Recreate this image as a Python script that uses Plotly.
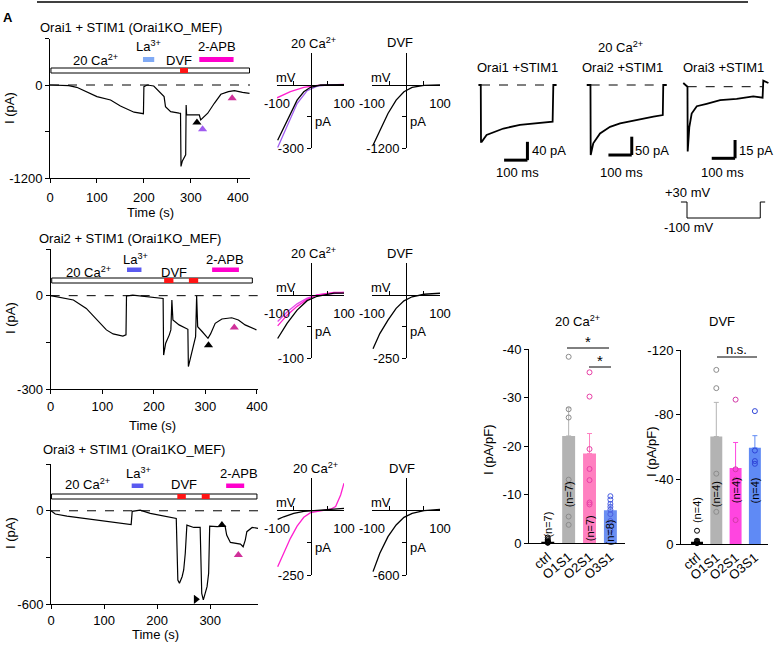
import plotly.graph_objects as go

W, H = 780, 651
FONT = "Liberation Sans, Arial, Helvetica, sans-serif"

# ---------------- data ----------------
# time courses: time (s) and current (pA)
orai1_t = [0, 20, 40, 57, 80, 100, 129, 150, 179, 196, 199, 200, 207, 221, 236, 243, 246, 257, 275, 278,
           279, 282, 289, 290, 291, 300, 318, 321, 336, 350, 364, 380, 393, 410, 425]
orai1_i = [0, -2, -8, -30, -90, -150, -193, -270, -351, -373, -370, -21, 0, -13, -107, -150, -279, -343, -364, -366,
           -1050, -980, -900, -257, -386, -386, -386, -450, -364, -236, -120, -85, -73, -95, -107]
orai1_mark_t = [313, 325, 388]
orai1_mark_i = [-484, -570, -171]

orai2_t = [0, 18, 44, 69, 95, 108, 121, 140, 146, 147, 159, 185, 210, 218, 219, 223, 230, 233, 235, 237,
           249, 262, 266, 267, 274, 281, 283, 285, 294, 305, 310, 319, 332, 351, 364, 377, 399]
orai2_i = [0, -5, -14, -41, -89, -110, -123, -130, -126, -1, 2, -3, -6, -9, -191, -153, -126, -110, -14, -78,
           -94, -105, -108, -228, -175, -132, 0, -100, -116, -137, -123, -89, -75, -71, -78, -94, -110]
orai2_mark_t = [306, 356]
orai2_mark_i = [-159, -102]

orai3_t = [0, 8, 30, 61, 92, 124, 151, 153, 168, 187, 206, 225, 236, 239, 242, 247, 250, 253, 256, 269,
           281, 284, 287, 294, 297, 299, 313, 328, 331, 338, 357, 362, 366, 369, 379, 391]
orai3_i = [0, -21, -34, -49, -64, -77, -88, -4, 4, -17, -28, -43, -49, -444, -465, -423, -380, -273, -92, -107,
           -107, -530, -572, -487, -401, -98, -102, -98, -156, -203, -214, -231, -188, -134, -107, -113]
orai3_mark_t = [273, 322, 353]
orai3_mark_i = [-568, -92, -284]

# solution exchange (s)
orai1_bar, orai1_dvf, orai1_la, orai1_apb = [2, 425], [[277, 294]], [198, 222], [318, 391]
orai2_bar, orai2_dvf, orai2_la, orai2_apb = [2, 391], [[220, 238], [268, 286]], [148, 176], [313, 365]
orai3_bar, orai3_dvf, orai3_la, orai3_apb = [1, 388], [[238, 254], [284, 299]], [152, 174], [330, 364]

# I-V curves: mV, pA
iv1_ca_v_k = [-98, -70, -40, -20, 0, 30, 60, 100]
iv1_ca_k = [-263, -168, -72, -32, -11, 0, 1, 2]
iv1_ca_v_p = [-98, -70, -40, -10, 20, 50, 100]
iv1_ca_p = [-298, -199, -88, -27, -5, 0, 2]
iv1_ca_v_m = [-100, -60, -20, 20, 60, 100]
iv1_ca_m = [-61, -32, -11, -2, 1, 3]
iv_dvf_v = [-97, -77, -53, -29, -6, 18, 53, 100]
iv1_dvf = [-1149, -862, -543, -287, -128, -45, -6, 0]

iv2_ca_v = [-98, -70, -40, -10, 20, 70, 100]
iv2_ca_k = [-69, -45, -24, -9, -2, 3, 3]
iv2_ca_m = [-49, -32, -18, -7, 0, 4, 4]
iv2_ca_p = [-42, -27, -14, -5, 0, 3, 4]
iv2_dvf = [-213, -153, -100, -53, -23, -7, 3, 7]

iv3_ca_v_k = [-98, -80, -50, -20, 0, 50, 70, 100]
iv3_ca_k = [-36, -26, -13, -5, -3, 0, 3, 6]
iv3_ca_v_m = [-98, -80, -60, -40, -20, 0, 30, 60, 75, 90, 100]
iv3_ca_m = [-218, -167, -109, -62, -28, -10, -3, 3, 13, 58, 103]
iv3_dvf = [-569, -400, -246, -138, -68, -31, -6, 6]

# current responses to the -100 mV step: ms, pA
cur1_t = [-11, -1, 0, 3, 24, 53, 96, 167, 239, 307, 310, 324]
cur1_i = [0, 0, -124, -124, -109, -104, -95, -87, -84, -80, 0, 0]
cur2_t = [-17, -1, 0, 11, 40, 83, 126, 197, 269, 309, 311, 326]
cur2_i = [0, 0, -191, -159, -132, -114, -105, -95, -86, -82, 0, 0]
cur3_t = [-19, -1, 0, 7, 17, 39, 81, 139, 210, 281, 321, 324, 346]
cur3_i = [3, 0, -53, -33, -22, -16, -14, -11, -10, -8, -9, 5, 3]
scale_ms = 100
scale_pa = [40, 50, 15]

protocol_t = [-26, 0, 0, 314, 314, 335]
protocol_v = [30, 30, -100, -100, 30, 30]

# current densities (pA/pF)
grupos = ["ctrl", "O1S1", "O2S1", "O3S1"]
ca_media = [-0.3, -22.1, -18.5, -6.8]
ca_sem = [0.3, 5.8, 4.1, 1.8]
ca_n = [7, 7, 7, 8]
ca_pontos = [[-0.1, -0.2, -0.3, -0.5, -0.8, -0.2, -1.2],
             [-38.4, -27.6, -25.9, -13.1, -11.9, -5.5, -3.8],
             [-35.2, -30.2, -19.4, -15.3, -13.0, -8.4, -8.0],
             [-9.7, -9.0, -8.1, -7.5, -6.9, -6.0, -4.6, -2.6]]
dvf_media = [-1.4, -66.5, -47.0, -59.5]
dvf_sem = [1.5, 21.1, 15.8, 7.5]
dvf_n = [4, 4, 4, 4]
dvf_pontos = [[-0.5, -1.0, -2.0, -8.2],
              [-107.7, -96.4, -43.5, -19.9],
              [-89.3, -46.2, -39.8, -14.8],
              [-82.2, -57.8, -51.3, -49.6]]

# ---------------- helpers ----------------
fig = go.Figure()
layout = {}
annotations = []
shapes = []


def fx(px):
    return px / W


def fy(py):
    return 1 - py / H


def dom_x(a, b):
    return [fx(a), fx(b)]


def dom_y(top, bottom):
    return [fy(bottom), fy(top)]


def span(p0, p1, origin, per_px, flip=False):
    # data range covered by a pixel interval, knowing where 0 sits
    if flip:
        return [(origin - p1) * per_px, (origin - p0) * per_px]
    return [(p0 - origin) * per_px, (p1 - origin) * per_px]


def nomes(n):
    s = "" if n == 1 else str(n)
    return "xaxis" + s, "yaxis" + s, "x" + s, "y" + s


def eixo(**kw):
    d = dict(showline=True, linecolor="black", linewidth=1, ticks="outside", ticklen=4,
             tickwidth=1, tickcolor="black", showgrid=False, zeroline=False, automargin=False,
             tickfont=dict(family=FONT, size=13, color="black"))
    d.update(kw)
    return d


def invisivel(**kw):
    d = dict(visible=False, automargin=False, showgrid=False, zeroline=False)
    d.update(kw)
    return d


def texto(x, y, t, size=13, angle=0, xanchor="center", xref="paper", yref="paper"):
    if xref == "paper":
        x = fx(x)
    if yref == "paper":
        y = fy(y)
    annotations.append(dict(x=x, y=y, xref=xref, yref=yref, text=t, showarrow=False,
                            textangle=angle, xanchor=xanchor, yanchor="middle",
                            font=dict(family=FONT, size=size, color="black")))


def linha_px(x0, x1, y0, y1, w=1):
    shapes.append(dict(type="line", xref="paper", yref="paper", x0=fx(x0), x1=fx(x1),
                       y0=fy(y0), y1=fy(y1), line=dict(color="black", width=w)))


def plot_tempo(c):
    xa, ya, xr, yr = nomes(c["n"])
    ymin = c["ymin"]
    layout[xa] = eixo(domain=dom_x(*c["xbox"]), range=[0, c["xmax"]], anchor=yr, tickvals=c["xticks"],
                      ticklabelstandoff=c["standoff"])
    layout[ya] = eixo(domain=dom_y(*c["ybox"]), range=[ymin, -ymin / 2], anchor=xr,
                      tickvals=[-ymin / 2, 0, ymin / 2, ymin], ticktext=["", "0", "", str(ymin)])
    fig.add_trace(go.Scatter(x=[0, c["xmax"]], y=[0, 0], mode="lines",
                             line=dict(color="black", width=1, dash="dash"), xaxis=xr, yaxis=yr))
    fig.add_trace(go.Scatter(x=c["t"], y=c["i"], mode="lines", line=dict(color="black", width=1.2),
                             xaxis=xr, yaxis=yr))
    fig.add_trace(go.Scatter(x=c["mt"], y=c["mi"], mode="markers",
                             marker=dict(symbol=c["msym"], color=c["mcol"], size=8),
                             xaxis=xr, yaxis=yr))
    # solution bars
    b0, b1 = c["bar_y"]
    d0, d1 = c["drug_y"]
    shapes.append(dict(type="rect", xref=xr, yref="paper", x0=c["bar"][0], x1=c["bar"][1],
                       y0=fy(b1), y1=fy(b0), line=dict(color="black", width=1), fillcolor="white"))
    for a, b in c["dvf"]:
        shapes.append(dict(type="rect", xref=xr, yref="paper", x0=a, x1=b, y0=fy(b1), y1=fy(b0),
                           line=dict(width=0), fillcolor="#ff1414"))
    shapes.append(dict(type="rect", xref=xr, yref="paper", x0=c["la"][0], x1=c["la"][1],
                       y0=fy(d1), y1=fy(d0), line=dict(width=0), fillcolor=c["la_cor"]))
    shapes.append(dict(type="rect", xref=xr, yref="paper", x0=c["apb"][0], x1=c["apb"][1],
                       y0=fy(d1), y1=fy(d0), line=dict(width=0), fillcolor="#ff00cc"))
    for t, x, y in c["textos"]:
        texto(x, y, t)
    texto(*c["titulo_xy"], c["titulo"])
    texto(c["ylab_xy"][0], c["ylab_xy"][1], "I (pA)", angle=-90)
    texto(*c["tempo_xy"], "Time (s)")


def plot_iv(n, xbox, top, zero, bottom, ymin, curvas, titulo, titulo_x):
    xa, ya, xr, yr = nomes(n)
    ymax = -ymin * (zero - top) / (bottom - zero)
    x0 = (xbox[0] + xbox[1]) / 2
    layout[xa] = eixo(domain=dom_x(*xbox), range=[-100, 100], anchor="free", position=fy(zero),
                      ticks="inside", tickvals=[-100, -50, 50, 100], ticktext=["-100", "", "", "100"],
                      ticklabelstandoff=6)
    layout[ya] = eixo(domain=dom_y(top, bottom), range=[ymin, ymax], anchor="free", position=fx(x0),
                      tickvals=[ymin / 2, ymin], ticktext=["", str(ymin)])
    for v, i, cor in curvas:
        fig.add_trace(go.Scatter(x=v, y=i, mode="lines", line=dict(color=cor, width=1.3),
                                 xaxis=xr, yaxis=yr))
    texto(titulo_x, top - 10, titulo)
    texto(xbox[0] + 9, zero - 8, "mV")
    texto(x0 + 12, (zero + bottom) / 2 + 5, "pA")


def plot_corrente(n, t, i, xbox, origem, pa_px, canto, escala):
    xa, ya, xr, yr = nomes(n)
    ms_px = 100 / 23.33
    ybox = (60, 180)
    layout[xa] = invisivel(domain=dom_x(*xbox), anchor=yr, range=span(xbox[0], xbox[1], origem[0], ms_px))
    layout[ya] = invisivel(domain=dom_y(*ybox), anchor=xr,
                           range=span(ybox[0], ybox[1], origem[1], pa_px, flip=True))
    fig.add_trace(go.Scatter(x=[0, t[-3]], y=[0, 0], mode="lines",
                             line=dict(color="black", width=1, dash="dash"), xaxis=xr, yaxis=yr))
    fig.add_trace(go.Scatter(x=t, y=i, mode="lines", line=dict(color="black", width=1.8),
                             xaxis=xr, yaxis=yr))
    # scale bar (L shape)
    tx, py = canto
    shapes.append(dict(type="line", xref=xr, yref=yr, x0=tx - scale_ms, x1=tx, y0=py, y1=py,
                       line=dict(color="black", width=3)))
    shapes.append(dict(type="line", xref=xr, yref=yr, x0=tx, x1=tx, y0=py, y1=py + escala,
                       line=dict(color="black", width=3)))


def plot_barras(n, xbox, xrange, ybox, ymax, passo, medias, sem, pontos, n_cel,
                cores_barra, cores_ponto, n_y):
    xa, ya, xr, yr = nomes(n)
    ticks = [-passo * k for k in range(int(ymax / passo) + 1)]
    layout[xa] = eixo(domain=dom_x(*xbox), range=xrange, anchor=yr, ticks="", tickangle=-40,
                      tickvals=[0, 1, 2, 3], ticktext=grupos)
    layout[ya] = eixo(domain=dom_y(*ybox), range=[0, -ymax], anchor=xr,
                      tickvals=ticks, ticktext=[str(int(v)) if v else "0" for v in ticks])
    for k in range(4):
        fig.add_trace(go.Bar(x=[k], y=[medias[k]], width=0.62,
                             marker=dict(color=cores_barra[k], line=dict(width=0)),
                             error_y=dict(type="data", symmetric=False, array=[0], arrayminus=[sem[k]],
                                          color=cores_barra[k] if k else "black", thickness=1, width=2.5),
                             xaxis=xr, yaxis=yr))
        fig.add_trace(go.Scatter(x=[k] * len(pontos[k]), y=pontos[k], mode="markers",
                                 marker=dict(symbol="circle-open", size=5, color=cores_ponto[k],
                                             line=dict(width=1)),
                                 xaxis=xr, yaxis=yr, cliponaxis=False))
        texto(k, n_y[k], f"(n={n_cel[k]})", size=11, angle=-90, xref=xr, yref=yr)


# ---------------- time courses ----------------
linhas = [
    dict(n=1, t=orai1_t, i=orai1_i, mt=orai1_mark_t, mi=orai1_mark_i,
         msym=["triangle-up"] * 3, mcol=["black", "#a05cf0", "#d0309a"],
         xbox=(50, 250), xmax=426, ybox=(38.5, 178), ymin=-1200, xticks=[0, 100, 200, 300, 400], standoff=3,
         bar=orai1_bar, dvf=orai1_dvf, la=orai1_la, apb=orai1_apb, la_cor="#80aaf5",
         bar_y=(68, 73), drug_y=(57, 62), titulo="Orai1 + STIM1 (Orai1KO_MEF)", titulo_xy=(131, 28),
         ylab_xy=(10, 108), tempo_xy=(150, 212),
         textos=[("20 Ca<sup>2+</sup>", 95, 60), ("La<sup>3+</sup>", 148, 46),
                 ("DVF", 179, 60), ("2-APB", 217, 47)]),
    dict(n=4, t=orai2_t, i=orai2_i, mt=orai2_mark_t, mi=orai2_mark_i,
         msym=["triangle-up"] * 2, mcol=["black", "#d0309a"],
         xbox=(50.7, 258), xmax=402, ybox=(249, 389), ymin=-300, xticks=[0, 100, 200, 300, 400], standoff=1,
         bar=orai2_bar, dvf=orai2_dvf, la=orai2_la, apb=orai2_apb, la_cor="#5a5af0",
         bar_y=(278, 283), drug_y=(267.5, 272), titulo="Orai2 + STIM1 (Orai1KO_MEF)", titulo_xy=(130, 238),
         ylab_xy=(10, 318), tempo_xy=(152, 425),
         textos=[("20 Ca<sup>2+</sup>", 88, 272), ("La<sup>3+</sup>", 135, 259),
                 ("DVF", 174, 272), ("2-APB", 225, 259)]),
    dict(n=7, t=orai3_t, i=orai3_i, mt=orai3_mark_t, mi=orai3_mark_i,
         msym=["triangle-right", "triangle-up", "triangle-up"], mcol=["black", "black", "#d0309a"],
         xbox=(51, 258), xmax=390, ybox=(464, 604.3), ymin=-600, xticks=[0, 100, 200, 300], standoff=0,
         bar=orai3_bar, dvf=orai3_dvf, la=orai3_la, apb=orai3_apb, la_cor="#5a5af0",
         bar_y=(494, 499), drug_y=(483.5, 488), titulo="Orai3 + STIM1 (Orai1KO_MEF)", titulo_xy=(134, 449),
         ylab_xy=(10, 533), tempo_xy=(155, 634),
         textos=[("20 Ca<sup>2+</sup>", 87, 484), ("La<sup>3+</sup>", 138, 473),
                 ("DVF", 184, 484), ("2-APB", 239, 473)]),
]
for linha in linhas:
    plot_tempo(linha)

# ---------------- I-V relations ----------------
CA = "20 Ca<sup>2+</sup>"
plot_iv(2, (277, 344), 53, 85, 148, -300,
        [(iv1_ca_v_m, iv1_ca_m, "#ff1fcf"), (iv1_ca_v_p, iv1_ca_p, "#a05cf0"), (iv1_ca_v_k, iv1_ca_k, "black")],
        CA, 313)
plot_iv(3, (372, 440), 53, 85, 148, -1200, [(iv_dvf_v, iv1_dvf, "black")], "DVF", 400)
plot_iv(5, (277, 344), 263, 295, 358, -100,
        [(iv2_ca_v, iv2_ca_p, "#e24be8"), (iv2_ca_v, iv2_ca_m, "#ff1fcf"), (iv2_ca_v, iv2_ca_k, "black")],
        CA, 313)
plot_iv(6, (372, 440), 263, 295, 358, -250, [(iv_dvf_v, iv2_dvf, "black")], "DVF", 400)
plot_iv(8, (277, 344), 478, 510, 575, -250,
        [(iv3_ca_v_m, iv3_ca_m, "#ff1fcf"), (iv3_ca_v_k, iv3_ca_k, "black")], CA, 315)
plot_iv(9, (372, 440), 478, 510, 575, -600, [(iv_dvf_v, iv3_dvf, "black")], "DVF", 402)

# ---------------- current traces ----------------
plot_corrente(10, cur1_t, cur1_i, (474, 572), (481, 85), 40 / 18.33, (199, -164), scale_pa[0])
plot_corrente(11, cur2_t, cur2_i, (580, 675), (590.7, 85), 50 / 18.33, (176, -191), scale_pa[1])
plot_corrente(12, cur3_t, cur3_i, (678, 776), (687.7, 86.7), 15 / 18.33, (203, -58.6), scale_pa[2])
texto(620, 47, CA)
for x, nome in [(517, "Orai1 +STIM1"), (622, "Orai2 +STIM1"), (723, "Orai3 +STIM1")]:
    texto(x, 67, nome)
for x, k in [(549, 0), (652, 1), (756, 2)]:
    texto(x, 150, f"{scale_pa[k]} pA")
for x in [517, 621, 722]:
    texto(x, 173, f"{scale_ms} ms")

# voltage protocol
xa, ya, xr, yr = nomes(13)
layout[xa] = invisivel(domain=dom_x(678, 770), anchor=yr, range=span(678, 770, 687, 100 / 23.33))
layout[ya] = invisivel(domain=dom_y(195, 225), anchor=xr, range=span(195, 225, 205.7, 8.125, flip=True))
fig.add_trace(go.Scatter(x=protocol_t, y=protocol_v, mode="lines", line=dict(color="black", width=1),
                         xaxis=xr, yaxis=yr))
texto(687, 193, "+30 mV")
texto(688, 227, "-100 mV")

# ---------------- bar charts ----------------
plot_barras(14, (529, 625), [-0.9, 3.7], (349, 543.3), 40, 10, ca_media, ca_sem, ca_pontos, ca_n,
            ["black", "#b3b3b3", "#ff80c0", "#6b8ff2"], ["black", "#8c8c8c", "#e83fa5", "#4a5ee0"],
            [-3.8, -10, -3, -2.3])
plot_barras(15, (681, 768), [-0.83, 3.68], (350, 544), 120, 40, dvf_media, dvf_sem, dvf_pontos, dvf_n,
            ["black", "#b3b3b3", "#ff45e0", "#5f8af5"], ["black", "#8c8c8c", "#d33aa8", "#2f45d8"],
            [-21, -31, -33, -33])
texto(577, 321, CA)
texto(722, 321, "DVF")
texto(488, 450, "I (pA/pF)", angle=-90)
texto(652, 452, "I (pA/pF)", angle=-90)

# significance marks (pixel placed)
linha_px(567, 609, 348, 348)
texto(588, 341, "*", size=15)
linha_px(589, 611, 367, 367)
texto(600, 360, "*", size=15)
linha_px(717, 757, 357, 357)
texto(736, 349, "n.s.")

# frame details
linha_px(37, 748, 2, 2, w=1.5)
annotations.append(dict(x=fx(1), y=fy(8), xref="paper", yref="paper", text="<b>A</b>", showarrow=False,
                        xanchor="left", font=dict(family=FONT, size=13, color="black")))

fig.update_layout(
    template="none",
    width=W,
    height=H,
    margin=dict(l=0, r=0, t=0, b=0, autoexpand=False),
    paper_bgcolor="white",
    plot_bgcolor="white",
    showlegend=False,
    font=dict(family=FONT, size=13, color="black"),
    annotations=annotations,
    shapes=shapes,
    **layout,
)

# the page's default body margin would push the figure 8px off the window origin
fig.write_html("out.html", config={"displayModeBar": False},
               post_script="document.body.style.margin = '0px';")
